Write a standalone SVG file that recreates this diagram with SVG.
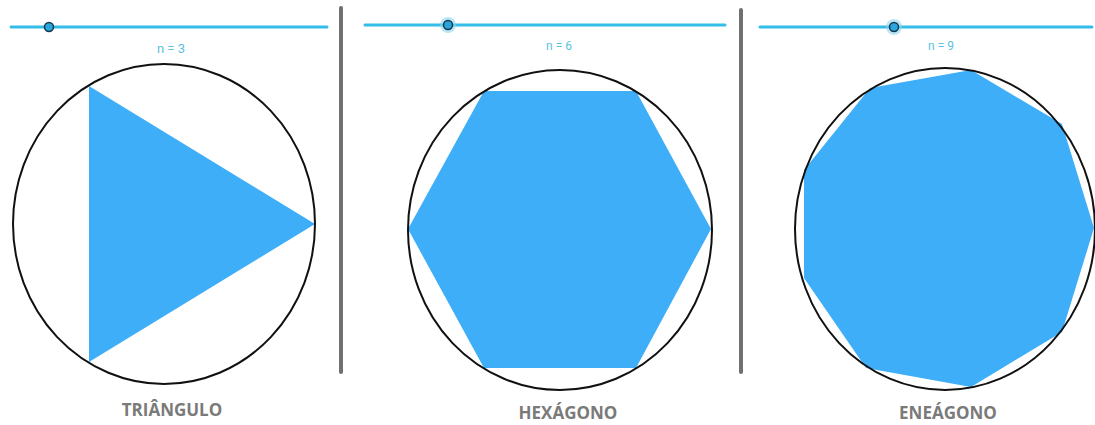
<svg xmlns="http://www.w3.org/2000/svg" width="1095" height="425" viewBox="0 0 1095 425">
<style>
.slider{stroke:#33bde8;stroke-width:3;stroke-linecap:round}
.knob{fill:#2aa6dc;stroke:#123a4a;stroke-width:1.5}
.halo{fill:#8fd3f0;opacity:0.6}
.nlab{font-family:Roboto,"Liberation Sans",sans-serif;font-size:12px;fill:#5cc3e0;text-anchor:middle}
.poly{fill:#3eaef8}
.circ{fill:none;stroke:#111;stroke-width:2}
.div{stroke:#707070;stroke-width:4;stroke-linecap:round}
.title{font-family:"Open Sans","Liberation Sans",sans-serif;font-weight:bold;font-size:17px;fill:#7a7a7a;text-anchor:middle}
</style>
<rect width="1095" height="425" fill="#fff"/>
<g id="dividers">
<line class="div" x1="341" y1="8" x2="341" y2="372"/>
<line class="div" x1="741" y1="10" x2="741" y2="372"/>
</g>
<g id="panel-triangle">
<line class="slider" x1="11" y1="27" x2="327" y2="27"/>
<circle class="knob" cx="49" cy="27" r="4.5"/>
<text class="nlab" x="171" y="53" style="font-size:13px">n = 3</text>
<polygon class="poly" points="89,86 315,224 89,362"/>
<ellipse class="circ" cx="164" cy="224" rx="151" ry="160"/>
<text class="title" x="172" y="416">TRIÂNGULO</text>
</g>
<g id="panel-hexagon">
<line class="slider" x1="365" y1="25" x2="725" y2="25"/>
<circle class="halo" cx="448" cy="25" r="8"/>
<circle class="knob" cx="448" cy="25" r="4.5"/>
<text class="nlab" x="559" y="50">n = 6</text>
<polygon class="poly" points="484,91 636,91 711,229 636,368 484,368 408,229"/>
<ellipse class="circ" cx="560" cy="230" rx="152" ry="160"/>
<text class="title" x="568" y="419">HEXÁGONO</text>
</g>
<g id="panel-enneagon">
<line class="slider" x1="760" y1="27" x2="1092" y2="27"/>
<circle class="halo" cx="894" cy="27" r="8"/>
<circle class="knob" cx="894" cy="27" r="4.5"/>
<text class="nlab" x="941" y="50">n = 9</text>
<polygon class="poly" points="971,70 870,88 804,170 804,278 866,368 971,387 1062,332 1094,228 1062,124"/>
<ellipse class="circ" cx="945" cy="229" rx="150" ry="161"/>
<text class="title" x="948" y="419">ENEÁGONO</text>
</g>
</svg>
